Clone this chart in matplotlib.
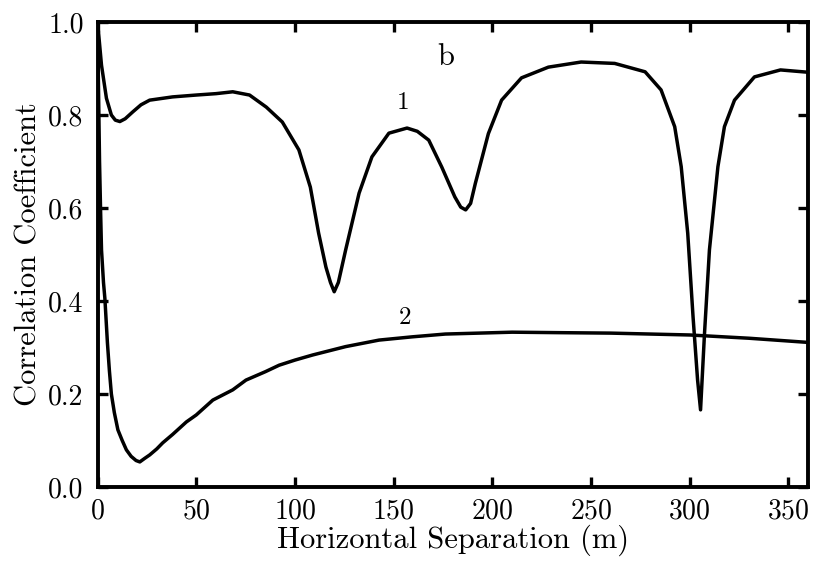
import matplotlib
matplotlib.use("Agg")
import matplotlib.pyplot as plt
import numpy as np

plt.rcParams["font.family"] = "cmr10"
plt.rcParams["axes.formatter.use_mathtext"] = True

# curve 1: correlation coefficient vs horizontal separation
x1 = [0, 2, 4.5, 7, 9, 11.3, 14, 17.9, 22, 26.4, 38, 50, 60, 68.5, 77, 85.5,
      93.6, 102, 107.8, 112, 115.7, 118, 119.9, 122, 125.7, 132.5, 139, 147.6,
      156.8, 162, 167.8, 174.4, 181, 184, 186.5, 189, 191.4, 198, 204.7, 214.8,
      228.4, 245, 262, 277.4, 285.5, 292.4, 295.7, 299, 301.7, 304, 305.5,
      307.5, 310, 314.3, 317.6, 322.7, 332.8, 346, 360]
y1 = [1.0, 0.907, 0.836, 0.8, 0.789, 0.786, 0.792, 0.807, 0.822, 0.832, 0.839,
      0.843, 0.846, 0.85, 0.843, 0.817, 0.785, 0.725, 0.645, 0.546, 0.473,
      0.44, 0.42, 0.44, 0.51, 0.632, 0.71, 0.761, 0.772, 0.765, 0.746, 0.688,
      0.624, 0.602, 0.596, 0.61, 0.653, 0.76, 0.832, 0.88, 0.903, 0.914,
      0.911, 0.893, 0.854, 0.775, 0.689, 0.546, 0.366, 0.23, 0.166, 0.33,
      0.51, 0.689, 0.775, 0.832, 0.882, 0.897, 0.892]

# curve 2
x2 = [0, 0.5, 1, 1.5, 2, 3, 3.7, 5, 6, 7, 8.5, 10.3, 12.5, 14.6, 17, 19.5,
      21.4, 24, 26.4, 30, 33, 38, 45, 50, 58.4, 68.5, 75.2, 85, 92, 100, 109,
      125.7, 142.6, 159.4, 176.2, 210, 233.5, 260, 300, 330, 360]
y2 = [1.0, 0.85, 0.7, 0.6, 0.51, 0.44, 0.406, 0.31, 0.25, 0.2, 0.16, 0.123,
      0.1, 0.08, 0.066, 0.057, 0.054, 0.062, 0.069, 0.082, 0.095, 0.113, 0.14,
      0.155, 0.187, 0.209, 0.23, 0.248, 0.262, 0.273, 0.284, 0.302, 0.316,
      0.323, 0.329, 0.333, 0.332, 0.331, 0.327, 0.32, 0.311]

fig = plt.figure(figsize=(8.13, 5.65), dpi=100)
ax = fig.add_axes([0.12, 0.138, 0.874, 0.823])

ax.plot(x1, y1, color="black", lw=2.5)
ax.plot(x2, y2, color="black", lw=2.5)

ax.text(176.6, 0.925, "b", fontsize=22, ha="center", va="center")
ax.text(155, 0.826, "1", fontsize=18, ha="center", va="center")
ax.text(156, 0.363, "2", fontsize=18, ha="center", va="center")

ax.set_xlim(0, 360)
ax.set_ylim(0, 1.0)
ax.set_xticks([0, 50, 100, 150, 200, 250, 300, 350])
ax.set_yticks([0.0, 0.2, 0.4, 0.6, 0.8, 1.0])
ax.set_yticklabels(["0.0", "0.2", "0.4", "0.6", "0.8", "1.0"])

for s in ax.spines.values():
    s.set_linewidth(2.8)
ax.tick_params(direction="in", top=True, right=True, length=7, width=2.4,
               labelsize=20)
ax.tick_params(axis="x", pad=8)
ax.tick_params(axis="y", pad=10)

ax.set_xlabel("Horizontal Separation (m)", fontsize=22, labelpad=0)
ax.set_ylabel("Correlation Coefficient", fontsize=22, labelpad=4)

fig.savefig("out.png", dpi=100)
